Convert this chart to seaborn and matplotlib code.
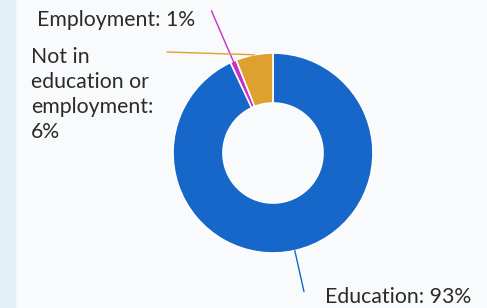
import numpy as np
import matplotlib
matplotlib.use("Agg")
import matplotlib.pyplot as plt
from matplotlib.patches import Rectangle
import seaborn as sns

labels = ["Education", "Employment", "Not in\neducation or\nemployment"]
shares = [93, 1, 6]
colours = ["#1766c9", "#c82ec8", "#dea12f"]

sns.set_style("white")
plt.rcParams["font.family"] = ["Lato", "DejaVu Sans"]
text_col = "#2b2b2b"
fs = 15.3

W, H = 487, 308
fig = plt.figure(figsize=(W / 100, H / 100), dpi=100)
fig.patch.set_facecolor("#f8fafc")
# pale strip on the left edge
fig.patches.append(Rectangle((0, 0), 15 / W, 1, transform=fig.transFigure,
                             color="#e3eff6", zorder=0))

ax = fig.add_axes([0, 0, 1, 1])
ax.set_facecolor("none")
# ring centre in pixels, 100 px = 1 data unit
cx, cy = 273, 153


def px(x, y):
    return (x - cx) / 100, (cy - y) / 100


wedges, _ = ax.pie(shares, colors=colours, startangle=90, counterclock=False,
                   radius=1.0,
                   wedgeprops=dict(width=0.5, edgecolor="white", linewidth=1.2))
ax.set_aspect("auto")
ax.set_xlim(-cx / 100, (W - cx) / 100)
ax.set_ylim(-(H - cy) / 100, cy / 100)
ax.axis("off")

mid = [np.deg2rad((w.theta1 + w.theta2) / 2) for w in wedges]


def polar(a, r):
    return r * np.cos(a), r * np.sin(a)


# education: radial leader
x0, y0 = polar(mid[0], 1.0)
x1, y1 = polar(mid[0], 1.42)
ax.plot([x0, x1], [y0, y1], color=colours[0], lw=1)
ax.text(*px(325, 303), f"{labels[0]}: {shares[0]}%", ha="left", va="baseline",
        fontsize=fs, color=text_col)

# employment: radial leader through the slice
x0, y0 = polar(mid[1], 0.52)
x1, y1 = polar(mid[1], 1.55)
ax.plot([x0, x1], [y0, y1], color=colours[1], lw=1)
ax.text(*px(37, 26), f"{labels[1]}: {shares[1]}%", ha="left", va="baseline",
        fontsize=fs, color=text_col)

# not in education or employment: flat leader to the left
x0, y0 = polar(mid[2], 1.0)
lx, ly = px(167, 52)
ax.plot([x0, lx], [y0, ly], color=colours[2], lw=1)
ax.text(*px(31, 47), f"{labels[2]}:\n{shares[2]}%", ha="left", va="top",
        fontsize=fs, color=text_col, linespacing=1.32)

fig.savefig("out.png", dpi=100, facecolor=fig.get_facecolor())
